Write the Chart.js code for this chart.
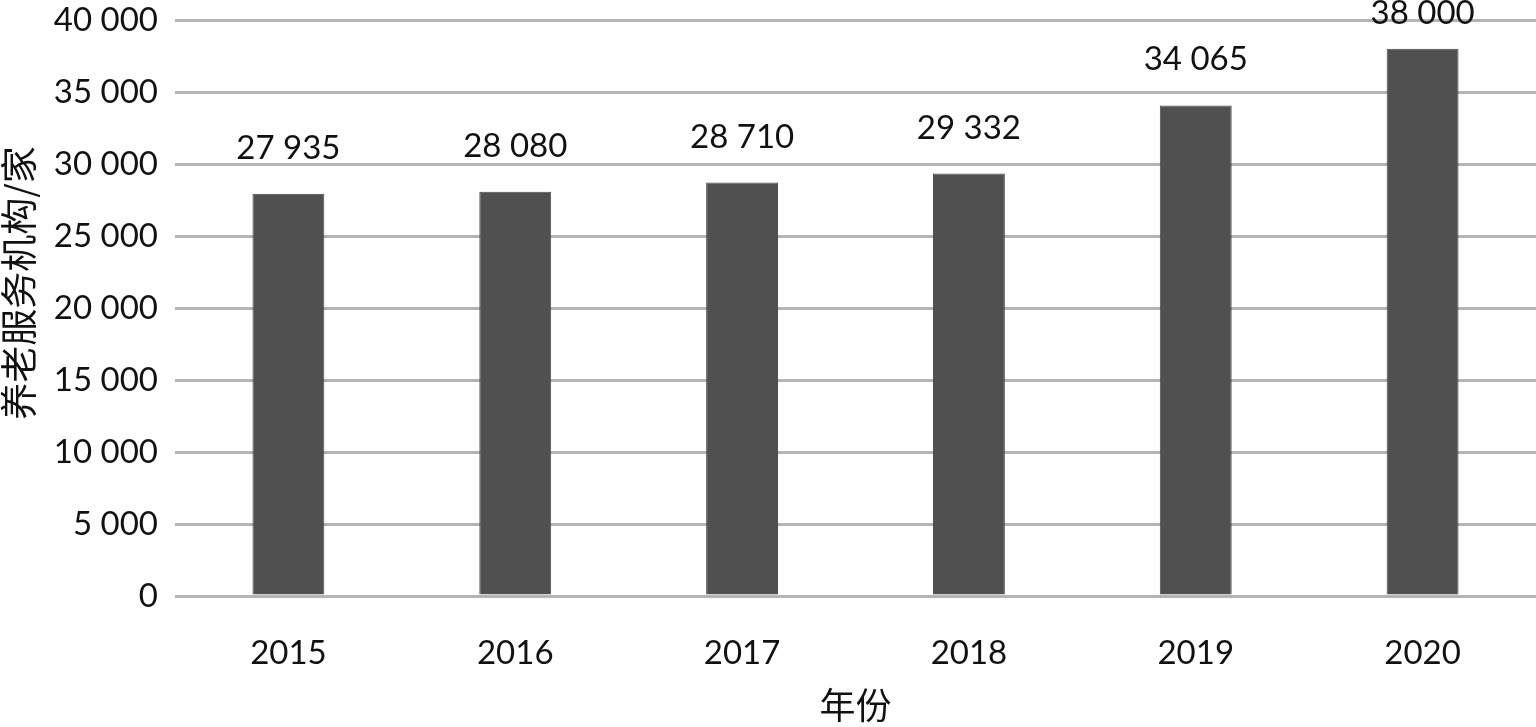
<!DOCTYPE html>
<html>
<head>
<meta charset="utf-8">
<script src="https://cdn.jsdelivr.net/npm/chart.js@4/dist/chart.umd.min.js"></script>
<style>
html,body{margin:0;padding:0;background:#fff;}
#wrap{width:1536px;height:727px;position:relative;}
</style>
</head>
<body>
<div id="wrap"><canvas id="c" width="1536" height="727"></canvas></div>
<script>
const categories = ['2015', '2016', '2017', '2018', '2019', '2020'];
const institutions = [27935, 28080, 28710, 29332, 34065, 38000];
const yMin = 0, yMax = 40000, yStep = 5000;
const xTitle = '年份';
const yTitle = '养老服务机构/家';

const NUM_FONT = 'Lato, "Open Sans", sans-serif';
const CJK_FONT = '"Noto Sans CJK SC", sans-serif';

function fmt(v) {
  return String(v).replace(/\B(?=(\d{3})+(?!\d))/g, ' ');
}

const labelPlugin = {
  id: 'valueLabels',
  afterDatasetsDraw(chart) {
    const ctx = chart.ctx;
    const meta = chart.getDatasetMeta(0);
    ctx.save();
    ctx.font = '33px ' + NUM_FONT;
    ctx.fillStyle = '#111';
    ctx.textAlign = 'center';
    ctx.textBaseline = 'alphabetic';
    meta.data.forEach((bar, i) => {
      const y = Math.max(bar.y - 35, 24);
      ctx.fillText(fmt(chart.data.datasets[0].data[i]), bar.x, y);
    });
    ctx.restore();
  }
};

const yTitlePlugin = {
  id: 'yTitle',
  afterDraw(chart) {
    const ctx = chart.ctx;
    const area = chart.chartArea;
    ctx.save();
    ctx.font = '37px ' + CJK_FONT;
    ctx.fillStyle = '#111';
    ctx.textAlign = 'center';
    ctx.textBaseline = 'middle';
    ctx.translate(19, (area.top + area.bottom) / 2 - 25);
    ctx.rotate(-Math.PI / 2);
    ctx.fillText(yTitle, 0, 0);
    ctx.restore();
  }
};

new Chart(document.getElementById('c'), {
  type: 'bar',
  data: {
    labels: categories,
    datasets: [{
      data: institutions,
      backgroundColor: '#505050',
      borderColor: '#4a4a4a',
      borderWidth: 1,
      barPercentage: 0.317,
      categoryPercentage: 1.0
    }]
  },
  options: {
    responsive: false,
    animation: false,
    devicePixelRatio: 1,
    layout: { padding: { top: 20, right: 0, left: 0, bottom: 0 } },
    plugins: { legend: { display: false }, tooltip: { enabled: false } },
    scales: {
      x: {
        grid: { display: false, drawTicks: false },
        border: { display: false },
        ticks: { color: '#111', font: { family: NUM_FONT, size: 33 }, padding: 38, maxRotation: 0 },
        title: { display: true, text: xTitle, color: '#111', font: { family: CJK_FONT, size: 36 }, padding: { top: 0, bottom: 0 } },
        afterFit(s) { s.height = 131; s.paddingLeft = 0; s.paddingRight = 0; }
      },
      y: {
        min: yMin, max: yMax,
        grid: { color: '#b4b4b4', lineWidth: 3, drawTicks: false },
        border: { display: false },
        ticks: { stepSize: yStep, color: '#111', font: { family: NUM_FONT, size: 33 }, padding: 17, callback: v => fmt(v) },
        title: { display: false },
        afterFit(s) { s.width = 175; s.paddingTop = 0; s.paddingBottom = 0; }
      }
    }
  },
  plugins: [labelPlugin, yTitlePlugin]
});
</script>
</body>
</html>
